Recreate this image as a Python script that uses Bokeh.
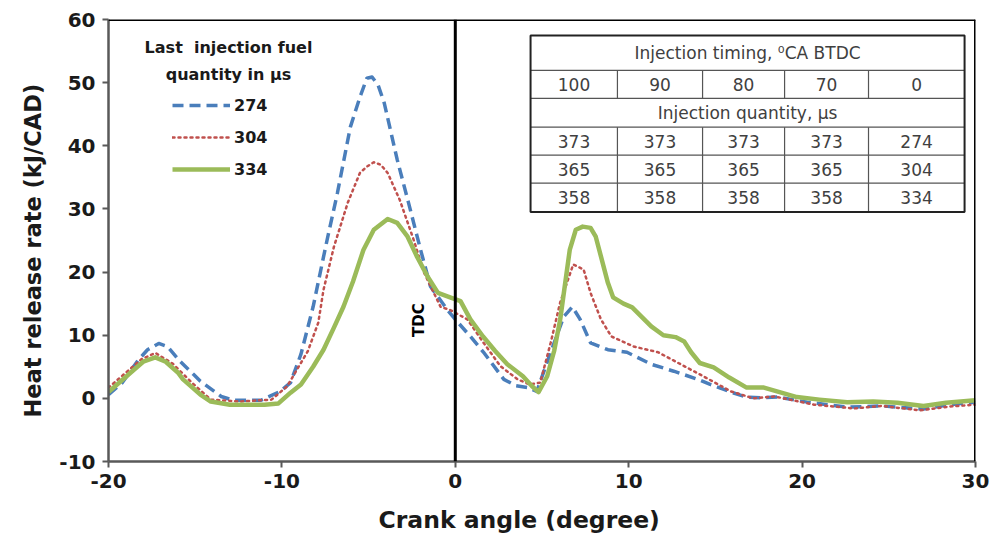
from bokeh.plotting import figure
from bokeh.models import (Range1d, Span, Label, Legend, LegendItem, FixedTicker,
                          CustomJSTickFormatter, Title)
from bokeh.embed import file_html
from bokeh.resources import INLINE
import math

# Heat release rate curves (crank angle in degree, rate in kJ/CAD)
ca_274 = [-20, -19.2, -18.3, -17.75, -17.1, -16.6, -15.85, -15.1, -14.7, -13.5, -12.8, -11.2,
          -10.1, -9.5, -8.9, -8.2, -7.6, -7.4, -6.8, -6.05, -5.5, -5.1, -4.8, -4.45, -4.1,
          -3.35, -2.7, -2.0, -1.43, -0.45, 0.0, 0.87, 1.63, 2.8, 3.5, 4.2, 4.7, 5.5, 6.25,
          6.75, 7.2, 7.8, 8.8, 9.9, 11.3, 12.6, 14.0, 14.7, 16.0, 16.8, 17.6, 18.6, 20.3,
          22.6, 24.6, 27.0, 28.5, 30.0]
hrr_274 = [0.6, 2.5, 6.0, 7.7, 8.7, 8.2, 5.8, 3.8, 2.7, 0.3, -0.3, -0.3,
           1.1, 2.5, 7.0, 14.5, 22.4, 25.0, 32.5, 43.0, 47.7, 50.7, 50.9, 49.6, 46.8,
           37.8, 31.0, 23.5, 17.7, 14.0, 12.5, 9.8, 7.3, 3.0, 2.0, 1.7, 1.1, 7.3, 12.9,
           14.5, 12.5, 8.8, 7.7, 7.3, 5.4, 4.3, 3.0, 2.2, 0.9, 0.2, 0.1, 0.2, -0.6,
           -1.4, -1.2, -1.7, -1.0, -0.6]

ca_304 = [-20, -18.1, -17.3, -16.3, -15.2, -14.1, -12.4, -10.6, -9.7, -8.5, -7.9, -7.6,
          -7.0, -6.2, -5.5, -5.1, -4.7, -4.3, -3.9, -3.2, -2.4, -1.8, -0.85, -0.3, 0.7,
          1.63, 2.6, 3.6, 4.3, 4.9, 5.5, 6.05, 6.8, 7.4, 7.8, 8.4, 9.0, 10.3, 11.7, 13.2,
          14.1, 15.9, 17.2, 18.4, 20.7, 23.0, 24.6, 26.8, 28.5, 30.0]
hrr_304 = [1.7, 6.2, 7.2, 5.5, 2.5, -0.2, -0.5, -0.2, 1.9, 7.5, 12.0, 17.2,
           24.0, 31.0, 35.7, 36.7, 37.4, 37.0, 35.7, 31.4, 25.1, 19.9, 14.5, 14.0, 12.5,
           8.8, 5.1, 3.0, 2.2, 2.5, 8.8, 15.2, 21.2, 20.4, 16.7, 12.5, 9.8, 8.2, 7.3, 5.1,
           3.8, 1.1, 0.0, 0.3, -1.0, -1.6, -1.2, -1.9, -1.3, -1.0]

ca_334 = [-20, -18.5, -18.0, -17.3, -16.7, -16.0, -15.7, -14.7, -14.1, -13.0, -12.0, -11.0,
          -10.2, -9.5, -8.9, -8.2, -7.6, -7.0, -6.45, -5.9, -5.3, -4.7, -3.9, -3.35, -2.75,
          -2.2, -1.6, -1.0, -0.3, 0.3, 0.87, 1.6, 2.3, 3.0, 3.9, 4.4, 4.8, 5.3, 5.7, 6.05,
          6.6, 6.95, 7.35, 7.8, 8.1, 8.8, 9.1, 9.7, 10.2, 11.3, 12.0, 12.7, 13.2, 13.6,
          14.1, 14.9, 15.8, 16.8, 17.8, 18.7, 19.7, 21.0, 22.6, 24.1, 25.5, 27.0, 28.3, 30.0]
hrr_334 = [1.0, 4.6, 5.8, 6.5, 5.8, 4.1, 3.0, 0.6, -0.5, -1.0, -1.0, -1.0,
           -0.8, 0.9, 2.2, 5.0, 7.7, 11.2, 14.5, 18.5, 23.5, 26.7, 28.4, 27.8, 25.6,
           22.4, 19.3, 16.7, 16.0, 15.4, 12.5, 9.8, 7.5, 5.4, 3.5, 2.0, 1.0, 3.5, 7.5, 12.5,
           23.5, 26.7, 27.2, 27.0, 25.6, 18.3, 16.0, 15.0, 14.4, 11.4, 10.0, 9.7, 9.0, 7.3,
           5.6, 4.9, 3.3, 1.7, 1.7, 1.0, 0.2, -0.2, -0.6, -0.5, -0.7, -1.2, -0.7, -0.3]

series_names = ["274", "304", "334"]
x_ticks = [-20, -10, 0, 10, 20, 30]
y_ticks = [-10, 0, 10, 20, 30, 40, 50, 60]
x_title = "Crank angle (degree)"
y_title = "Heat release rate (kJ/CAD)"

# Injection schedule table
timing_header = "Injection timing, \u2070CA BTDC"
timings = ["100", "90", "80", "70", "0"]
quantity_header = "Injection quantity, \u00b5s"
quantities = [["373", "373", "373", "373", "274"],
              ["365", "365", "365", "365", "304"],
              ["358", "358", "358", "358", "334"]]

FONT = "DejaVu Sans"
AXIS_GREY = "#595959"
INK = "#1a1a1a"

p = figure(width=992, height=547, output_backend="svg", toolbar_location=None,
           x_range=Range1d(-20, 30), y_range=Range1d(-10, 60),
           min_border_left=108, min_border_right=17, min_border_top=19, min_border_bottom=85)
p.outline_line_color = None
p.grid.visible = False
p.background_fill_color = "white"
p.border_fill_color = "white"

plain_minus = CustomJSTickFormatter(code="return tick.toString();")
for ax in (p.xaxis[0], p.yaxis[0]):
    ax.formatter = plain_minus
    ax.axis_line_color = AXIS_GREY
    ax.axis_line_width = 2.5
    ax.major_tick_line_color = AXIS_GREY
    ax.major_tick_line_width = 2
    ax.major_tick_out = 6
    ax.major_tick_in = 0
    ax.minor_tick_line_color = None
    ax.major_label_text_font = FONT
    ax.major_label_text_font_style = "bold"
    ax.major_label_text_font_size = "20px"
    ax.major_label_text_color = INK

p.xaxis.ticker = FixedTicker(ticks=x_ticks)
p.yaxis.ticker = FixedTicker(ticks=y_ticks)
p.xaxis.major_label_standoff = 6
p.yaxis.major_label_standoff = 7

# axis titles as side-panel titles so they can sit off-centre
p.add_layout(Title(text=x_title, align="left", offset=270, standoff=27,
                   text_font=FONT, text_font_style="bold", text_font_size="23.5px",
                   text_color=INK), "below")
p.add_layout(Title(text=y_title, align="left", offset=44, standoff=21,
                   text_font=FONT, text_font_style="bold", text_font_size="22.5px",
                   text_color=INK), "left")

# top / right frame borders and the TDC marker
p.add_layout(Span(location=60, dimension="width", line_color="black", line_width=3))
p.add_layout(Span(location=30, dimension="height", line_color="black", line_width=3))
p.add_layout(Span(location=0, dimension="height", line_color="black", line_width=3))
p.add_layout(Label(x=-2.1, y=12.4, text="TDC", angle=math.pi / 2, text_align="center",
                   text_baseline="middle", text_font=FONT, text_font_style="bold",
                   text_font_size="15px", text_color="black"))

r274 = p.line(ca_274, hrr_274, line_color="#4a7ebb", line_width=3.5, line_dash="11 6",
              line_join="round")
r304 = p.line(ca_304, hrr_304, line_color="#c0504d", line_width=2.5, line_dash="2 4",
              line_cap="round", line_join="round")
r334 = p.line(ca_334, hrr_334, line_color="#9bbb59", line_width=4.5, line_join="round")

legend = Legend(items=[LegendItem(label=series_names[0], renderers=[r274]),
                       LegendItem(label=series_names[1], renderers=[r304]),
                       LegendItem(label=series_names[2], renderers=[r334])],
                location=(64, 282), glyph_width=58, glyph_height=20, label_height=20,
                spacing=12, padding=0, margin=0, border_line_color=None,
                background_fill_alpha=0, label_standoff=4,
                label_text_font=FONT, label_text_font_style="bold",
                label_text_font_size="16px", label_text_color=INK)
p.add_layout(legend)
for i, t in enumerate(["Last\u00a0 injection fuel", "quantity in \u00b5s"]):
    p.add_layout(Label(x=120, y=414 - 27 * i, x_units="screen", y_units="screen", text=t,
                       text_align="center", text_baseline="middle", text_font=FONT,
                       text_font_style="bold", text_font_size="16px", text_color=INK))

# table drawn in data space
col_edges = [4.34, 9.35, 14.26, 18.99, 23.83, 29.37]
row_edges = [57.47, 51.94, 47.52, 42.94, 38.52, 34.09, 29.51]
left, right = col_edges[0], col_edges[-1]
top, bottom = row_edges[0], row_edges[-1]
p.quad(left=[left], right=[right], top=[top], bottom=[bottom], fill_color="white",
       line_color=None)

hx0, hx1, hy = [], [], []
for y in row_edges[1:-1]:
    hx0.append(left); hx1.append(right); hy.append(y)
p.segment(x0=hx0, y0=hy, x1=hx1, y1=hy, line_color="#555555", line_width=1.2)

vx, vy0, vy1 = [], [], []
for (ya, yb) in [(row_edges[1], row_edges[2]), (row_edges[3], row_edges[6])]:
    for x in col_edges[1:-1]:
        vx.append(x); vy0.append(ya); vy1.append(yb)
p.segment(x0=vx, y0=vy0, x1=vx, y1=vy1, line_color="#555555", line_width=1.2)
p.quad(left=[left], right=[right], top=[top], bottom=[bottom], fill_color=None,
       line_color="#222222", line_width=2)

tx, ty, tt = [], [], []
mid_x = (left + right) / 2
tx.append(mid_x); ty.append((row_edges[0] + row_edges[1]) / 2); tt.append(timing_header)
tx.append(mid_x); ty.append((row_edges[2] + row_edges[3]) / 2); tt.append(quantity_header)
col_mid = [(col_edges[i] + col_edges[i + 1]) / 2 for i in range(5)]
for i, v in enumerate(timings):
    tx.append(col_mid[i]); ty.append((row_edges[1] + row_edges[2]) / 2); tt.append(v)
for r, row in enumerate(quantities):
    for i, v in enumerate(row):
        tx.append(col_mid[i]); ty.append((row_edges[3 + r] + row_edges[4 + r]) / 2); tt.append(v)
p.text(x=tx, y=ty, text=tt, text_align="center", text_baseline="middle",
       text_font={"value": FONT}, text_font_size="17px", text_color="#404040")

open("out.html", "w").write(file_html(p, INLINE))
